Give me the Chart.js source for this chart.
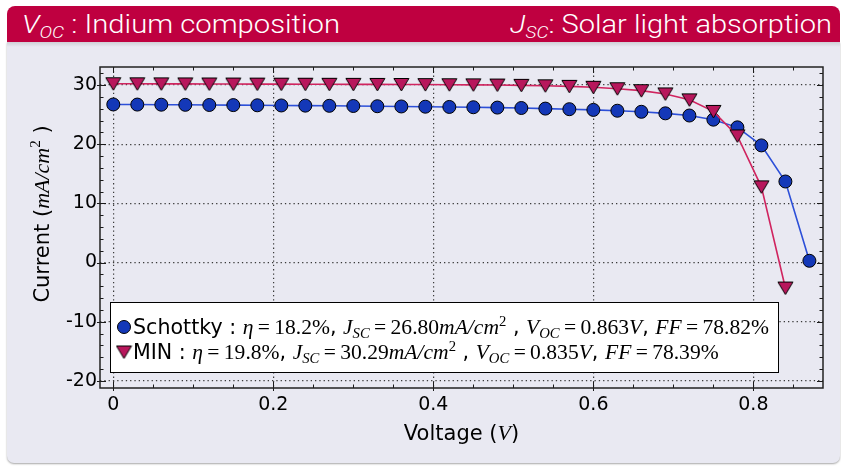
<!DOCTYPE html>
<html><head><meta charset="utf-8">
<script src="https://cdn.jsdelivr.net/npm/chart.js@4.4.0/dist/chart.umd.min.js"></script>
<style>
html,body{margin:0;padding:0;background:#fff;width:841px;height:466px;overflow:hidden;}
#panel{position:absolute;left:7px;top:42px;width:833px;height:421px;background:#e9e9f2;border-radius:0 0 7px 7px;box-shadow:0 1px 2px rgba(0,0,0,0.35);}
#shade{position:absolute;left:7px;top:42px;width:833px;height:5px;background:linear-gradient(#cfcfd6,#e9e9f2);}
#head{position:absolute;left:7px;top:6px;width:833px;height:36px;background:#bf0040;border-radius:8px 8px 0 0;}
.ht{position:absolute;top:6px;height:36px;line-height:36px;color:#fff;font-family:Roboto,Lato,sans-serif;font-weight:300;font-size:26px;white-space:nowrap;transform-origin:0 50%;}
.ht sub{font-size:17px;vertical-align:-5px;line-height:0}
#c{position:absolute;left:0;top:0;}
</style></head>
<body>
<div id="panel"></div><div id="shade"></div><div id="head"></div>
<div class="ht" id="h1"><i>V</i><sub><i>OC</i></sub> : Indium composition</div>
<div class="ht" id="h2"><i>J</i><sub><i>SC</i></sub>: Solar light absorption</div>
<canvas id="c" width="841" height="466"></canvas>
<script>
// ---- data ----
const voltageSchottky = [0.00,0.03,0.06,0.09,0.12,0.15,0.18,0.21,0.24,0.27,0.30,0.33,0.36,0.39,0.42,0.45,0.48,0.51,0.54,0.57,0.60,0.63,0.66,0.69,0.72,0.75,0.78,0.81,0.84,0.87];
const currentSchottky = [26.72,26.70,26.68,26.66,26.63,26.61,26.58,26.55,26.52,26.49,26.46,26.42,26.38,26.34,26.30,26.25,26.19,26.12,26.02,25.92,25.80,25.66,25.48,25.22,24.85,24.15,22.85,19.8,13.7,0.3];
const voltageMIN = [0.00,0.03,0.06,0.09,0.12,0.15,0.18,0.21,0.24,0.27,0.30,0.33,0.36,0.39,0.42,0.45,0.48,0.51,0.54,0.57,0.60,0.63,0.66,0.69,0.72,0.75,0.78,0.81,0.84];
const currentMIN = [30.22,30.21,30.20,30.19,30.18,30.17,30.16,30.15,30.14,30.13,30.12,30.11,30.10,30.08,30.06,30.03,30.00,29.95,29.88,29.78,29.62,29.38,29.05,28.5,27.5,25.55,21.4,12.8,-4.3];
const seriesNames = ['Schottky','MIN'];
const efficiency = ['18.2','19.8'];
const jscValues = ['26.80','30.29'];
const vocValues = ['0.863','0.835'];
const ffValues = ['78.82','78.39'];
const xTickValues = [0,0.2,0.4,0.6,0.8];
const yTickValues = [-20,-10,0,10,20,30];
const xRange = [-0.0166, 0.887];
const yRange = [-21.2, 33.05];

// ---- header fit ----
function fitHead(id, left, right){
  const el=document.getElementById(id);
  const w=el.getBoundingClientRect().width;
  el.style.left=left+'px';
  el.style.transform='scaleX('+((right-left)/w)+')';
}
fitHead('h1',22,340);
fitHead('h2',510,832);

// ---- styles ----
const BLUE_FILL='#1438b8', BLUE_LINE='#2c4fd8';
const MIN_FILL='#b8175c', MIN_LINE='#d0245f';
const SANS='DejaVu Sans', SERIF='Liberation Serif';

function triImg(){
  const c=document.createElement('canvas'); c.width=17; c.height=17;
  const g=c.getContext('2d');
  g.beginPath(); g.moveTo(1,2.5); g.lineTo(16,2.5); g.lineTo(8.5,15); g.closePath();
  g.fillStyle=MIN_FILL; g.fill(); g.lineWidth=1; g.strokeStyle='#000'; g.stroke();
  return c;
}
const TRI=triImg();

function richWidth(ctx,segs){let w=0;for(const s of segs){ctx.font=s.f;w+=ctx.measureText(s.t).width;}return w;}
function drawRich(ctx,segs,x,y){for(const s of segs){ctx.font=s.f;ctx.fillText(s.t,x,y+(s.dy||0));x+=ctx.measureText(s.t).width;}}

const LS=21, MS=22;
const sans=(t,sz)=>({t,f:`${sz||LS}px "${SANS}"`});
const rm=(t)=>({t,f:`${MS}px "${SERIF}"`});
const it=(t)=>({t,f:`italic ${MS}px "${SERIF}"`});
const sub=(t)=>({t,f:`italic ${Math.round(MS*0.7)}px "${SERIF}"`,dy:4});
const sup=(t)=>({t,f:`${Math.round(MS*0.7)}px "${SERIF}"`,dy:-8});

function legendRow(i){
  return [sans(seriesNames[i]+' : '),it('η'),rm('\u2009=\u2009'+efficiency[i]+'%'),sans(', '),
    it('J'),sub('SC'),rm('\u2009=\u2009'+jscValues[i]),it('mA/cm'),sup('2'),sans(' , '),
    it('V'),sub('OC'),rm('\u2009=\u2009'+vocValues[i]),it('V'),sans(', '),it('FF'),rm('\u2009=\u2009'+ffValues[i]+'%')];
}

const decor={
  id:'decor',
  beforeDatasetsDraw(chart){
    const {ctx,chartArea:a,scales:{x,y}}=chart;
    ctx.save();
    ctx.strokeStyle='#1a1a1a'; ctx.lineWidth=1;
    const tk=(x1,y1,x2,y2)=>{ctx.beginPath();ctx.moveTo(x1,y1);ctx.lineTo(x2,y2);ctx.stroke();};
    for(const v of xTickValues){const p=Math.round(x.getPixelForValue(v))+0.5; tk(p,a.bottom+3,p,a.bottom-6); tk(p,a.top,p,a.top+6);}
    for(let k=0;k<=17;k++){const v=k*0.05; const p=Math.round(x.getPixelForValue(v))+0.5; tk(p,a.bottom,p,a.bottom-3.5); tk(p,a.top,p,a.top+3.5);}
    for(const v of yTickValues){const p=Math.round(y.getPixelForValue(v))+0.5; tk(a.left-3,p,a.left+6,p); tk(a.right,p,a.right-6,p);}
    for(let k=-10;k<=16;k++){const v=k*2; const p=Math.round(y.getPixelForValue(v))+0.5; tk(a.left,p,a.left+3.5,p); tk(a.right,p,a.right-3.5,p);}
    ctx.lineWidth=1.5; ctx.strokeStyle='#222';
    ctx.strokeRect(a.left,a.top,a.right-a.left,a.bottom-a.top);
    ctx.restore();
  },
  afterDraw(chart){
    const {ctx,chartArea:a}=chart;
    ctx.save();
    ctx.fillStyle='#000'; ctx.textBaseline='alphabetic';
    // x title
    const xs=[sans('Voltage (',21),{t:'V',f:`italic 22px "${SERIF}"`},sans(')',21)];
    const xw=richWidth(ctx,xs);
    drawRich(ctx,xs,(a.left+a.right)/2-xw/2,440);
    // y title
    const ys=[sans('Current (',21),{t:'mA/cm',f:`italic 22px "${SERIF}"`},{t:'2',f:`15px "${SERIF}"`,dy:-9},sans(' )',21)];
    const yw=richWidth(ctx,ys);
    ctx.save(); ctx.translate(49,214); ctx.rotate(-Math.PI/2);
    drawRich(ctx,ys,-yw/2,0); ctx.restore();
    // legend
    const bx=a.left+10, by=302, bw=668, bh=70;
    ctx.fillStyle='#fff'; ctx.fillRect(bx,by,bw,bh);
    ctx.strokeStyle='#000'; ctx.lineWidth=1; ctx.strokeRect(bx+0.5,by+0.5,bw,bh);
    // markers
    ctx.beginPath(); ctx.arc(bx+14,by+25,6.5,0,Math.PI*2); ctx.fillStyle=BLUE_FILL; ctx.fill(); ctx.strokeStyle='#000'; ctx.stroke();
    ctx.drawImage(TRI,bx+14-8.5,by+50-8.5);
    ctx.fillStyle='#000';
    const r0=legendRow(0), r1=legendRow(1);
    const sx=Math.min(1,(bw-32)/richWidth(ctx,r0));
    const tx=bx+23;
    ctx.save(); ctx.translate(tx,0); ctx.scale(sx,1); drawRich(ctx,r0,0,by+32); drawRich(ctx,r1,0,by+57); ctx.restore();
    ctx.restore();
  }
};

new Chart(document.getElementById('c'),{
  type:'line',
  data:{datasets:[
    {label:seriesNames[0],data:voltageSchottky.map((v,i)=>({x:v,y:currentSchottky[i]})),
     borderColor:BLUE_LINE,borderWidth:1.6,pointStyle:'circle',pointRadius:6.5,pointBackgroundColor:BLUE_FILL,
     pointBorderColor:'#000',pointBorderWidth:1,tension:0,order:2},
    {label:seriesNames[1],data:voltageMIN.map((v,i)=>({x:v,y:currentMIN[i]})),
     borderColor:MIN_LINE,borderWidth:1.6,pointStyle:TRI,pointRadius:7,tension:0,order:1}
  ]},
  options:{
    responsive:false,animation:false,devicePixelRatio:1,
    layout:{padding:{top:67,right:18,left:0,bottom:0}},
    plugins:{legend:{display:false},tooltip:{enabled:false}},
    scales:{
      x:{type:'linear',min:xRange[0],max:xRange[1],
        afterBuildTicks:s=>{s.ticks=xTickValues.map(v=>({value:v}));},
        afterFit:s=>{s.height=78;},
        ticks:{font:{family:SANS,size:19},color:'#000',padding:6,maxRotation:0,callback:v=>String(Number(v.toFixed(2)))},
        grid:{color:'#3a3a3a',lineWidth:1.2,drawTicks:false},
        border:{display:false,dash:[1.3,3]}},
      y:{type:'linear',min:yRange[0],max:yRange[1],
        afterBuildTicks:s=>{s.ticks=yTickValues.map(v=>({value:v}));},
        afterFit:s=>{s.width=100;},
        ticks:{font:{family:SANS,size:19},color:'#000',padding:3,callback:v=>String(v)},
        grid:{color:'#3a3a3a',lineWidth:1.2,drawTicks:false},
        border:{display:false,dash:[1.3,3]}}
    }
  },
  plugins:[decor]
});
</script>
</body></html>
